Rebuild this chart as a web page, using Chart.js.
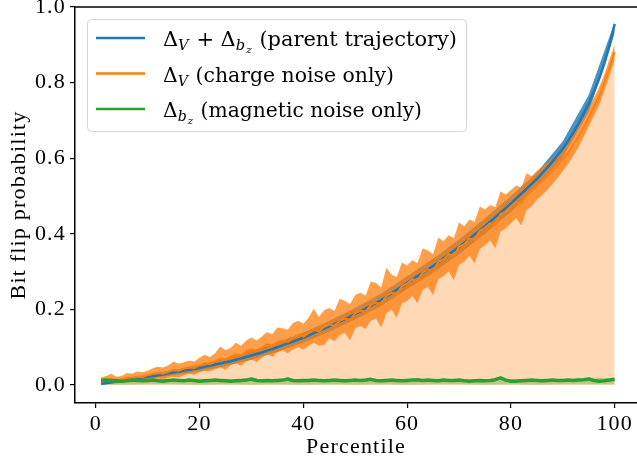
<!DOCTYPE html>
<html>
<head>
<meta charset="utf-8">
<script src="https://cdn.jsdelivr.net/npm/chart.js@4.4.1/dist/chart.umd.min.js"></script>
<style>
  html, body { margin: 0; padding: 0; background: #fff; overflow: hidden; }
  #wrap { position: relative; width: 637px; height: 466px; }
</style>
</head>
<body>
<div id="wrap"><canvas id="chart" width="637" height="466"></canvas></div>
<script>
// percentiles on the x axis
const percentile = [
  1, 2, 3, 4, 5, 6, 7, 8, 9, 10, 11, 12, 13, 14, 15, 16, 17, 18, 19, 20,
  21, 22, 23, 24, 25, 26, 27, 28, 29, 30, 31, 32, 33, 34, 35, 36, 37, 38, 39, 40,
  41, 42, 43, 44, 45, 46, 47, 48, 49, 50, 51, 52, 53, 54, 55, 56, 57, 58, 59, 60,
  61, 62, 63, 64, 65, 66, 67, 68, 69, 70, 71, 72, 73, 74, 75, 76, 77, 78, 79, 80,
  81, 82, 83, 84, 85, 86, 87, 88, 89, 90, 91, 92, 93, 94, 95, 96, 97, 98, 99, 100
];

// parent trajectory (dV + dbz)
const parentMean = [
  0.003, 0.005, 0.007, 0.010, 0.012, 0.014, 0.016, 0.018, 0.020, 0.022,
  0.024, 0.026, 0.028, 0.031, 0.033, 0.035, 0.038, 0.040, 0.042, 0.045,
  0.048, 0.051, 0.054, 0.057, 0.060, 0.063, 0.067, 0.070, 0.074, 0.078,
  0.082, 0.086, 0.091, 0.095, 0.100, 0.105, 0.110, 0.115, 0.120, 0.125,
  0.131, 0.137, 0.143, 0.149, 0.155, 0.161, 0.168, 0.174, 0.181, 0.188,
  0.195, 0.202, 0.210, 0.217, 0.225, 0.234, 0.243, 0.252, 0.261, 0.270,
  0.279, 0.288, 0.297, 0.306, 0.315, 0.325, 0.335, 0.345, 0.355, 0.365,
  0.376, 0.387, 0.398, 0.409, 0.420, 0.432, 0.444, 0.456, 0.468, 0.480,
  0.493, 0.506, 0.519, 0.532, 0.545, 0.560, 0.575, 0.591, 0.608, 0.625,
  0.645, 0.667, 0.691, 0.717, 0.745, 0.776, 0.810, 0.850, 0.898, 0.955
];

// coarse x for the smooth bands
const bandX = [1, 5, 10, 15, 20, 25, 30, 35, 40, 45, 50, 55, 60, 65, 70, 75, 80, 85, 90, 95, 100];
const parentLow = [
  0.000, 0.007, 0.016, 0.026, 0.036, 0.050, 0.067, 0.088, 0.112, 0.141, 0.173,
  0.209, 0.253, 0.297, 0.346, 0.400, 0.458, 0.524, 0.602, 0.722, 0.930
];
const parentHigh = [
  0.007, 0.017, 0.028, 0.040, 0.054, 0.070, 0.090, 0.113, 0.139, 0.170, 0.204,
  0.242, 0.288, 0.334, 0.385, 0.441, 0.500, 0.562, 0.645, 0.768, 0.960
];

// charge noise only (dV)
const chargeMean = [
  0.012, 0.013, 0.016, 0.012, 0.015, 0.019, 0.018, 0.022, 0.021, 0.026,
  0.029, 0.032, 0.030, 0.035, 0.040, 0.038, 0.044, 0.047, 0.045, 0.052,
  0.058, 0.055, 0.062, 0.070, 0.066, 0.075, 0.081, 0.078, 0.088, 0.094,
  0.090, 0.098, 0.108, 0.104, 0.113, 0.118, 0.114, 0.124, 0.132, 0.128,
  0.138, 0.146, 0.142, 0.154, 0.160, 0.157, 0.170, 0.176, 0.172, 0.190,
  0.197, 0.194, 0.212, 0.218, 0.214, 0.236, 0.244, 0.240, 0.262, 0.268,
  0.280, 0.276, 0.298, 0.306, 0.300, 0.326, 0.332, 0.346, 0.340, 0.366,
  0.372, 0.388, 0.384, 0.408, 0.416, 0.428, 0.424, 0.452, 0.458, 0.472,
  0.484, 0.480, 0.505, 0.512, 0.528, 0.540, 0.552, 0.566, 0.580, 0.598,
  0.614, 0.636, 0.656, 0.682, 0.708, 0.736, 0.764, 0.800, 0.840, 0.880
];
const chargeHigh = [
  0.020, 0.024, 0.030, 0.022, 0.024, 0.032, 0.030, 0.036, 0.034, 0.038,
  0.044, 0.048, 0.046, 0.052, 0.062, 0.056, 0.060, 0.064, 0.062, 0.072,
  0.080, 0.074, 0.084, 0.102, 0.092, 0.098, 0.112, 0.104, 0.118, 0.126,
  0.118, 0.128, 0.140, 0.134, 0.152, 0.150, 0.146, 0.164, 0.170, 0.162,
  0.178, 0.202, 0.180, 0.198, 0.204, 0.196, 0.228, 0.222, 0.214, 0.238,
  0.244, 0.236, 0.274, 0.270, 0.258, 0.310, 0.292, 0.286, 0.324, 0.316,
  0.330, 0.322, 0.362, 0.356, 0.346, 0.390, 0.380, 0.396, 0.388, 0.430,
  0.420, 0.438, 0.432, 0.472, 0.464, 0.476, 0.470, 0.512, 0.504, 0.516,
  0.528, 0.522, 0.560, 0.552, 0.566, 0.578, 0.588, 0.600, 0.612, 0.630,
  0.646, 0.666, 0.684, 0.708, 0.732, 0.760, 0.788, 0.822, 0.862, 0.900
];
const chargeLow = [
  0.004, 0.005, 0.006, 0.004, 0.006, 0.008, 0.007, 0.010, 0.009, 0.013,
  0.015, 0.017, 0.014, 0.019, 0.022, 0.020, 0.026, 0.030, 0.027, 0.034,
  0.038, 0.036, 0.042, 0.046, 0.040, 0.052, 0.058, 0.050, 0.062, 0.068,
  0.060, 0.072, 0.082, 0.074, 0.086, 0.092, 0.084, 0.094, 0.100, 0.094,
  0.104, 0.112, 0.104, 0.106, 0.124, 0.116, 0.132, 0.138, 0.118, 0.150,
  0.156, 0.148, 0.170, 0.176, 0.152, 0.190, 0.200, 0.178, 0.216, 0.222,
  0.236, 0.216, 0.252, 0.260, 0.238, 0.280, 0.288, 0.300, 0.278, 0.318,
  0.326, 0.342, 0.322, 0.360, 0.370, 0.382, 0.362, 0.406, 0.414, 0.428,
  0.442, 0.422, 0.462, 0.472, 0.490, 0.502, 0.516, 0.532, 0.548, 0.566,
  0.584, 0.606, 0.628, 0.656, 0.684, 0.712, 0.740, 0.778, 0.818, 0.860
];

// magnetic noise only (dbz)
const magneticMean = [
  0.012, 0.013, 0.011, 0.012, 0.010, 0.011, 0.013, 0.012, 0.011, 0.012,
  0.013, 0.011, 0.010, 0.012, 0.013, 0.012, 0.011, 0.013, 0.012, 0.010,
  0.011, 0.012, 0.013, 0.012, 0.011, 0.010, 0.011, 0.012, 0.013, 0.016,
  0.012, 0.011, 0.012, 0.011, 0.012, 0.013, 0.016, 0.012, 0.011, 0.012,
  0.012, 0.013, 0.012, 0.011, 0.012, 0.013, 0.012, 0.011, 0.012, 0.013,
  0.012, 0.013, 0.015, 0.012, 0.011, 0.012, 0.013, 0.012, 0.011, 0.012,
  0.013, 0.014, 0.012, 0.013, 0.012, 0.011, 0.013, 0.012, 0.012, 0.013,
  0.011, 0.010, 0.011, 0.012, 0.011, 0.012, 0.014, 0.019, 0.013, 0.010,
  0.010, 0.011, 0.012, 0.013, 0.012, 0.011, 0.012, 0.013, 0.012, 0.012,
  0.013, 0.012, 0.013, 0.014, 0.016, 0.012, 0.010, 0.011, 0.013, 0.015
];
const magneticLow = [
  0.001, 0.001, 0.002, 0.002, 0.001, 0.002, 0.001, 0.002, 0.001, 0.002, 0.001,
  0.002, 0.001, 0.002, 0.002, 0.001, 0.002, 0.001, 0.002, 0.002, 0.002
];
const magneticHigh = [
  0.016, 0.015, 0.016, 0.015, 0.015, 0.016, 0.015, 0.016, 0.016, 0.016, 0.016,
  0.016, 0.016, 0.016, 0.015, 0.016, 0.016, 0.016, 0.016, 0.019, 0.018
];

const xTicks = [0, 20, 40, 60, 80, 100];
const yTicks = [0.0, 0.2, 0.4, 0.6, 0.8, 1.0];

const colors = {
  parent: '#1f77b4',
  charge: '#ff7f0e',
  magnetic: '#2ca02c'
};

// legend rows: [text, style] pieces, style n = normal, s = subscript, ss = sub-subscript
const legendRows = [
  { color: colors.parent, parts: [['Δ', 'n'], ['V', 's'], [' + Δ', 'n'], ['b', 's'], ['z', 'ss'], [' (parent trajectory)', 'n']] },
  { color: colors.charge, parts: [['Δ', 'n'], ['V', 's'], [' (charge noise only)', 'n']] },
  { color: colors.magnetic, parts: [['Δ', 'n'], ['b', 's'], ['z', 'ss'], [' (magnetic noise only)', 'n']] }
];
// where each legend row ends in the reference
const legendEnds = [457, 394, 422];

const serif = "'Liberation Serif', 'DejaVu Serif', serif";
const legendSerif = "'DejaVu Serif', 'Liberation Serif', serif";

function pts(xs, ys) {
  return xs.map((x, i) => ({ x: x, y: ys[i] }));
}

function bandSet(data, color, fill) {
  return {
    data: data,
    borderWidth: 0,
    pointRadius: 0,
    backgroundColor: color,
    fill: fill
  };
}

function lineSet(data, color, width) {
  return {
    data: data,
    borderColor: color,
    borderWidth: width,
    pointRadius: 0,
    fill: false,
    borderJoinStyle: 'round',
    borderCapStyle: 'butt'
  };
}

function partFont(kind) {
  if (kind === 'n') return { font: '20px ' + legendSerif, dy: 0 };
  if (kind === 's') return { font: 'italic 14px ' + legendSerif, dy: 4 };
  return { font: 'italic 10px ' + legendSerif, dy: 7 };
}

const spacingPlugin = {
  id: 'spacing',
  beforeDraw(chart) {
    chart.ctx.letterSpacing = '1.2px';
  }
};

const legendPlugin = {
  id: 'mplLegend',
  afterDraw(chart) {
    const ctx = chart.ctx;
    const area = chart.chartArea;
    ctx.save();
    ctx.letterSpacing = '0px';
    // top spine
    ctx.strokeStyle = '#000';
    ctx.lineWidth = 1.5;
    ctx.beginPath();
    ctx.moveTo(area.left, area.top);
    ctx.lineTo(chart.width, area.top);
    ctx.stroke();

    // legend frame
    ctx.fillStyle = 'rgba(255,255,255,0.8)';
    ctx.strokeStyle = 'rgba(204,204,204,0.8)';
    ctx.lineWidth = 1;
    ctx.beginPath();
    ctx.roundRect(87.5, 19.5, 379, 112, 4);
    ctx.fill();
    ctx.stroke();

    const rowY = [38, 73.5, 109];
    legendRows.forEach((row, i) => {
      const y = rowY[i];
      ctx.strokeStyle = row.color;
      ctx.lineWidth = 2.5;
      ctx.beginPath();
      ctx.moveTo(96, y);
      ctx.lineTo(145, y);
      ctx.stroke();

      // natural width, then fit to the reference width
      let natural = 0;
      row.parts.forEach(([text, kind]) => {
        ctx.font = partFont(kind).font;
        natural += ctx.measureText(text).width + (kind === 'n' ? 0 : 1);
      });
      const k = (legendEnds[i] - 163) / natural;

      const base = y + 8;
      ctx.save();
      ctx.translate(163, 0);
      ctx.scale(k, 1);
      let x = 0;
      ctx.fillStyle = '#000';
      ctx.textBaseline = 'alphabetic';
      ctx.textAlign = 'left';
      row.parts.forEach(([text, kind]) => {
        const f = partFont(kind);
        ctx.font = f.font;
        ctx.fillText(text, x, base + f.dy);
        x += ctx.measureText(text).width + (kind === 'n' ? 0 : 1);
      });
      ctx.restore();
    });
    ctx.restore();
  }
};

const ctx = document.getElementById('chart').getContext('2d');
new Chart(ctx, {
  type: 'line',
  data: {
    datasets: [
      lineSet(pts(percentile, magneticMean), colors.magnetic, 3.5),
      lineSet(pts(percentile, chargeMean), colors.charge, 2),
      lineSet(pts(percentile, parentMean), colors.parent, 2.5),
      bandSet(pts(bandX, magneticHigh), 'rgba(44,160,44,0.3)', '+1'),
      bandSet(pts(bandX, magneticLow), 'rgba(0,0,0,0)', false),
      bandSet(pts(percentile, chargeHigh), 'rgba(255,127,14,0.75)', '+1'),
      bandSet(pts(percentile, chargeLow), 'rgba(0,0,0,0)', false),
      bandSet(pts(bandX, parentHigh), 'rgba(31,119,180,0.8)', '+1'),
      bandSet(pts(bandX, parentLow), 'rgba(0,0,0,0)', false),
      bandSet(pts(percentile, chargeMean), 'rgba(255,127,14,0.3)', 'origin')
    ]
  },
  options: {
    responsive: false,
    animation: false,
    devicePixelRatio: 1,
    layout: { padding: { top: 7, right: 0, left: 0, bottom: 0 } },
    elements: { line: { tension: 0 } },
    plugins: {
      legend: { display: false },
      tooltip: { enabled: false }
    },
    scales: {
      x: {
        type: 'linear',
        min: -4.0,
        max: 104.3,
        afterBuildTicks: s => { s.ticks = xTicks.map(v => ({ value: v })); },
        afterFit: s => { s.height = 63; s.paddingLeft = 0; s.paddingRight = 0; },
        grid: { display: true, drawOnChartArea: false, drawTicks: true, tickLength: 5, color: '#000', lineWidth: 1.2 },
        border: { display: true, color: '#000', width: 1.5 },
        ticks: {
          color: '#000',
          padding: 3,
          maxRotation: 0,
          autoSkip: false,
          font: { family: serif, size: 22 },
          callback: v => String(v)
        },
        title: {
          display: true,
          text: 'Percentile',
          color: '#000',
          font: { family: serif, size: 22 },
          padding: { top: 0, bottom: 6 }
        }
      },
      y: {
        type: 'linear',
        min: -0.0476,
        max: 1.0,
        afterBuildTicks: s => { s.ticks = yTicks.map(v => ({ value: v })); },
        afterFit: s => { s.width = 75; s.paddingTop = 0; s.paddingBottom = 0; },
        grid: { display: true, drawOnChartArea: false, drawTicks: true, tickLength: 5, color: '#000', lineWidth: 1.2 },
        border: { display: true, color: '#000', width: 1.5 },
        ticks: {
          color: '#000',
          padding: 4,
          autoSkip: false,
          font: { family: serif, size: 22 },
          callback: v => v.toFixed(1)
        },
        title: {
          display: true,
          text: 'Bit flip probability',
          color: '#000',
          font: { family: serif, size: 22 },
          padding: { top: 6, bottom: 0 }
        }
      }
    }
  },
  plugins: [spacingPlugin, legendPlugin]
});
</script>
</body>
</html>
